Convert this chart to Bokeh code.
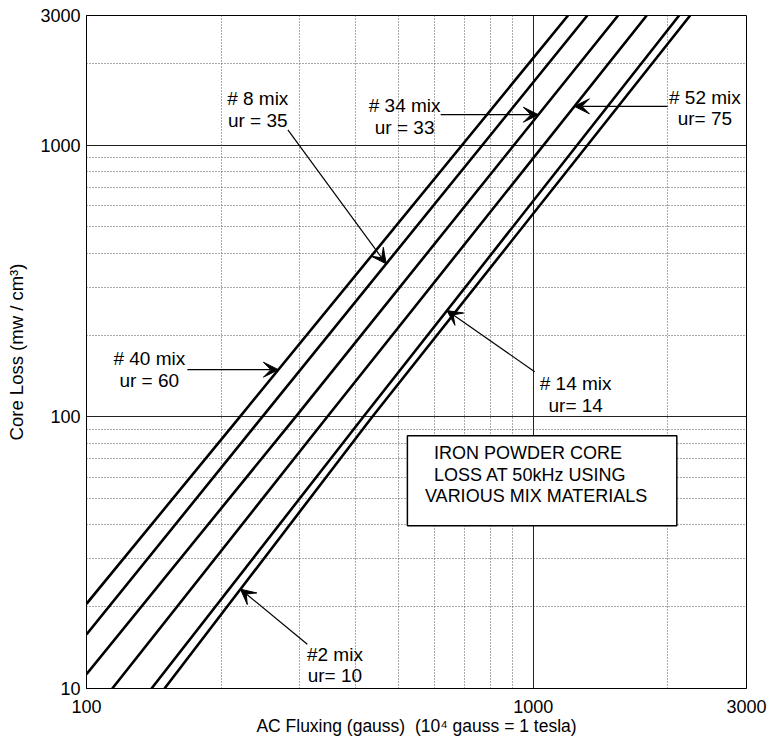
import numpy as np
from bokeh.plotting import figure
from bokeh.models import FixedTicker, Grid, Arrow, VeeHead, PrintfTickFormatter
from bokeh.core.properties import value
from bokeh.embed import file_html
from bokeh.resources import INLINE

FONT = "Liberation Sans"

# ---- data ----
mix_names = ["# 40 mix", "# 8 mix", "# 34 mix", "# 52 mix", "# 14 mix", "#2 mix"]
perm_labels = ["ur = 60", "ur = 35", "ur = 33", "ur= 75", "ur= 14", "ur= 10"]

mix40_x = [100, 220.4, 1196]
mix40_y = [20.5, 100, 3000]
mix8_x = [100, 247.4, 1321]
mix8_y = [15.8, 100, 3000]
mix34_x = [100, 293.8, 1548]
mix34_y = [11.3, 100, 3000]
mix52_x = [114.2, 345.9, 1794]
mix52_y = [10, 100, 3000]
mix14_x = [139.8, 416.6, 2120]
mix14_y = [10, 100, 3000]
mix2_x = [149.5, 436.2, 2244]
mix2_y = [10, 100, 3000]

series_x = [mix40_x, mix8_x, mix34_x, mix52_x, mix14_x, mix2_x]
series_y = [mix40_y, mix8_y, mix34_y, mix52_y, mix14_y, mix2_y]

x_ticks = [100, 1000, 3000]
y_ticks = [10, 100, 1000, 3000]
x_major_grid = [1000]
y_major_grid = [100, 1000]
x_minor_grid = [200, 300, 400, 500, 600, 700, 800, 900, 2000]
y_minor_grid = [20, 30, 40, 50, 60, 70, 80, 90, 200, 300, 400, 500, 600, 700, 800, 900, 2000]

# label anchors (data space): x centre, y of first line, y of second line
label_x = [138.2, 241.7, 515.2, 2421, 1244, 359.7]
label_y1 = [163.3, 1486, 1401, 1502, 132.1, 13.37]
label_y2 = [135.8, 1233, 1165, 1251, 110.5, 11.21]

# arrows: tail point and head height, head lies on the series line
arrow_tail_x = [168.1, 282.3, 620.4, 1997, 1007, 312]
arrow_tail_y = [149.1, 1139, 1294, 1389, 146.6, 14.55]
arrow_head_y = [149.1, 365.6, 1294, 1389, 246, 23.2]

box_lines = ["IRON POWDER CORE", "LOSS AT 50kHz USING", "VARIOUS MIX MATERIALS"]
box_text_x = [599.4, 599.4, 572.1]
box_text_y = [73.9, 61.2, 51.2]
box_left, box_right, box_top, box_bottom = 522.6, 2095, 85.2, 39.7

# ---- figure ----
p = figure(width=782, height=748, x_axis_type="log", y_axis_type="log",
           x_range=(100, 3000), y_range=(10, 3000),
           output_backend="svg", toolbar_location=None,
           min_border_left=86, min_border_right=36, min_border_top=15, min_border_bottom=60)

p.background_fill_color = "white"
p.border_fill_color = "white"
p.outline_line_color = "black"
p.outline_line_width = 1
p.outline_line_alpha = 1

p.xaxis.ticker = FixedTicker(ticks=x_ticks)
p.yaxis.ticker = FixedTicker(ticks=y_ticks)
p.xaxis.formatter = PrintfTickFormatter(format="%d")
p.yaxis.formatter = PrintfTickFormatter(format="%d")

for ax in (p.xaxis, p.yaxis):
    ax.major_tick_out = 0
    ax.major_tick_in = 0
    ax.minor_tick_out = 0
    ax.minor_tick_in = 0
    ax.axis_line_color = "black"
    ax.major_label_text_font = FONT
    ax.major_label_text_font_size = "18px"
    ax.major_label_text_color = "black"
    ax.axis_label_text_font = FONT
    ax.axis_label_text_font_style = "normal"
    ax.axis_label_text_color = "black"

p.xaxis.axis_label_text_font_size = "17.5px"
p.yaxis.axis_label_text_font_size = "18.5px"
p.xaxis.major_label_standoff = 11
p.xaxis.axis_label_standoff = 0
p.yaxis.major_label_standoff = 6
p.yaxis.axis_label_standoff = 10
p.xaxis.axis_label = "AC Fluxing (gauss)\u00a0\u00a0(10\u2074 gauss = 1 tesla)"
p.yaxis.axis_label = "Core Loss (mw / cm\u00b3)"

# grids
p.xgrid.ticker = FixedTicker(ticks=x_major_grid)
p.ygrid.ticker = FixedTicker(ticks=y_major_grid)
p.xgrid.grid_line_color = "#222222"
p.ygrid.grid_line_color = "#222222"
p.xgrid.grid_line_width = 1
p.ygrid.grid_line_width = 1

gx = Grid(dimension=0, ticker=FixedTicker(ticks=x_minor_grid),
          grid_line_color="#555555", grid_line_dash="1 2", grid_line_width=1)
gy = Grid(dimension=1, ticker=FixedTicker(ticks=y_minor_grid),
          grid_line_color="#555555", grid_line_dash="1 2", grid_line_width=1)
p.add_layout(gx)
p.add_layout(gy)

# series
for xs, ys in zip(series_x, series_y):
    p.line(xs, ys, line_color="black", line_width=2.6)

# annotation texts
all_text = []
all_x = []
all_y = []
for name, perm, lx, y1, y2 in zip(mix_names, perm_labels, label_x, label_y1, label_y2):
    all_text += [name, perm]
    all_x += [lx, lx]
    all_y += [y1, y2]
p.text(x=all_x, y=all_y, text=all_text, text_font=value(FONT), text_font_size="19px",
       text_align="center", text_baseline="middle", text_color="black")

# arrows
def x_on_series(xs, ys, y):
    return 10 ** np.interp(np.log10(y), np.log10(ys), np.log10(xs))

for i, (tx, ty, hy) in enumerate(zip(arrow_tail_x, arrow_tail_y, arrow_head_y)):
    hx = x_on_series(series_x[i], series_y[i], hy)
    p.add_layout(Arrow(end=VeeHead(size=15, fill_color="black", line_color="black", line_width=1),
                       x_start=tx, y_start=ty, x_end=float(hx), y_end=hy,
                       line_color="black", line_width=1.2))

# info box
p.quad(left=[box_left], right=[box_right], top=[box_top], bottom=[box_bottom],
       fill_color="white", line_color="black", line_width=1.5)
p.text(x=box_text_x, y=box_text_y, text=box_lines, text_font=value(FONT), text_font_size="18px",
       text_align="left", text_baseline="middle", text_color="black")

open("out.html", "w").write(file_html(p, INLINE))
